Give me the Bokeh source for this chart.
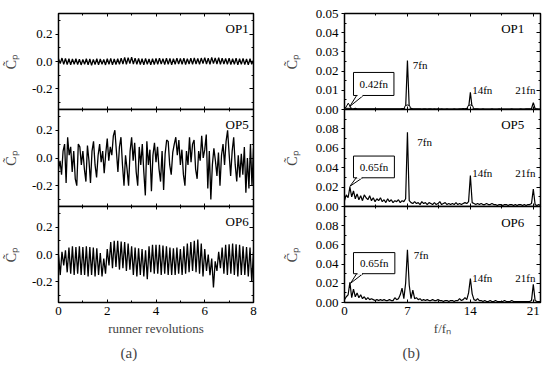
import numpy as np
from bokeh.plotting import figure
from bokeh.layouts import column, row
from bokeh.models import Range1d, FixedTicker, PrintfTickFormatter, LinearAxis, Title
from bokeh.core.properties import value
from bokeh.embed import file_html
from bokeh.resources import INLINE

FONT = "Liberation Serif"

# ---------------- data ----------------
rev_ticks = [0, 2, 4, 6, 8]
rev_minor = [1, 3, 5, 7]
cp_ticks = [-0.2, 0.0, 0.2]
cp_minor = [-0.3, -0.1, 0.1, 0.3]
f_ticks = [0, 7, 14, 21]
f_minor = [3.5, 10.5, 17.5]
spec1_ticks = [0.0, 0.01, 0.02, 0.03, 0.04, 0.05]
spec1_minor = [0.005, 0.015, 0.025, 0.035, 0.045]
spec2_ticks = [0.0, 0.02, 0.04, 0.06, 0.08]
spec2_minor = [0.01, 0.03, 0.05, 0.07, 0.09]

op_names = ["OP1", "OP5", "OP6"]
harmonic_labels = ["7fn", "14fn", "21fn"]
callout_labels = ["0.42fn", "0.65fn", "0.65fn"]

# time signals, 14 samples per runner revolution (t = i/14)
op1_signal = [
    0.02, -0.015, 0.025, -0.02, 0.022, -0.022, 0.02, -0.025, 0.018, -0.02, 0.02, -0.022, 0.016, -0.025,
    0.015, -0.02, 0.02, -0.025, 0.018, -0.028, 0.015, -0.022, 0.02, -0.025, 0.018, -0.02, 0.015, -0.025,
    0.02, -0.02, 0.022, -0.025, 0.018, -0.022, 0.02, -0.02, 0.025, -0.018, 0.03, -0.02, 0.028, -0.015,
    0.032, -0.018, 0.025, -0.02, 0.022, -0.022, 0.02, -0.025, 0.022, -0.02, 0.018, -0.025, 0.02, -0.022,
    0.022, -0.02, 0.025, -0.018, 0.02, -0.022, 0.024, -0.02, 0.022, -0.025, 0.02, -0.02, 0.025, -0.018,
    0.022, -0.02, 0.025, -0.022, 0.02, -0.018, 0.024, -0.02, 0.026, -0.018, 0.022, -0.02, 0.025, -0.015,
    0.028, -0.018, 0.025, -0.02, 0.03, -0.015, 0.026, -0.018, 0.028, -0.02, 0.025, -0.018, 0.022, -0.02,
    0.025, -0.022, 0.02, -0.02, 0.024, -0.025, 0.02, -0.02, 0.022, -0.022, 0.018, -0.025, 0.02, -0.02,
    0.01]

# 16 samples per revolution (t = i/16)
op5_signal = [
    -0.08, -0.02, -0.12, 0.05, 0.1, -0.18, 0.15, 0.02, 0.08, -0.1, 0.05, -0.15, -0.2, 0.1, 0.08, -0.05,
    0.05, -0.08, -0.17, 0.09, -0.02, -0.18, 0.05, 0.12, -0.05, -0.14, 0.02, 0.1, -0.03, 0.05, -0.11, 0.03,
    0.14, -0.02, 0.08, 0.02, 0.16, 0.2, 0.05, -0.1, 0.08, 0.15, -0.05, -0.2, 0.02, -0.08, -0.2, 0.05,
    0.15, -0.02, 0.11, -0.1, -0.2, 0.08, -0.05, 0.1, -0.1, -0.27, 0.12, -0.05, 0.06, -0.24, 0.02, 0.11,
    -0.03, 0.08, -0.08, -0.17, 0.05, -0.23, 0.03, 0.13, 0.12, -0.05, -0.12, 0.04, 0.1, 0.15, 0.02, 0.13,
    -0.05, 0.06, -0.12, -0.2, 0.05, -0.05, 0.15, -0.03, 0.1, 0.13, -0.08, -0.15, 0.05, -0.02, 0.16, 0.0,
    0.06, 0.17, -0.22, 0.05, -0.3, -0.05, 0.07, -0.02, -0.13, 0.04, -0.2, 0.02, 0.1, -0.05, 0.12, 0.2,
    0.03, -0.13, 0.05, 0.15, -0.05, -0.17, 0.02, -0.14, 0.03, -0.12, 0.08, -0.25, 0.0, -0.22, 0.1, -0.2,
    0.07]

op6_signal = [
    0.0, -0.15, 0.02, -0.08, 0.03, -0.13, 0.05, -0.14, 0.06, -0.15, 0.055, -0.14, 0.06, -0.15,
    0.055, -0.15, 0.06, -0.16, 0.055, -0.15, 0.05, -0.16, 0.045, -0.15, 0.01, -0.16, -0.03, -0.14,
    0.04, -0.08, 0.09, -0.1, 0.1, -0.09, 0.1, -0.11, 0.095, -0.1, 0.09, -0.12, 0.08, -0.11,
    0.06, -0.15, 0.05, -0.16, 0.045, -0.15, 0.04, -0.16, 0.03, -0.18, 0.06, -0.13, 0.07, -0.14,
    0.07, -0.14, 0.07, -0.15, 0.065, -0.14, 0.06, -0.15, 0.05, -0.15, 0.045, -0.15, 0.05, -0.14,
    0.04, -0.15, 0.06, -0.14, 0.08, -0.13, 0.09, -0.12, 0.1, -0.13, 0.11, -0.14, 0.08, -0.16,
    0.04, -0.12, 0.0, -0.15, -0.03, -0.24, -0.05, -0.12, 0.02, -0.1, 0.05, -0.14, 0.07, -0.15,
    0.075, -0.14, 0.08, -0.15, 0.075, -0.16, 0.07, -0.15, 0.06, -0.15, 0.055, -0.16, 0.05, -0.2,
    0.02]

# amplitude spectra on a 0.2 f/fn grid from 0 to 21.8
op1_spec = [
    0.0008, 0.0012, 0.0018, 0.0008, 0.0005, 0.0004, 0.0006, 0.0003, 0.0004, 0.0003,
    0.0004, 0.0003, 0.0003, 0.0004, 0.0003, 0.0003, 0.0004, 0.0003, 0.0003, 0.0004,
    0.0003, 0.0003, 0.0003, 0.0004, 0.0003, 0.0003, 0.0003, 0.0004, 0.0003, 0.0003,
    0.0003, 0.0004, 0.0005, 0.0006, 0.0008, 0.0255, 0.0008, 0.0006, 0.0004, 0.0003,
    0.0003, 0.0003, 0.0003, 0.0002, 0.0003, 0.0003, 0.0002, 0.0003, 0.0003, 0.0002,
    0.0003, 0.0002, 0.0003, 0.0002, 0.0003, 0.0002, 0.0002, 0.0003, 0.0002, 0.0002,
    0.0002, 0.0003, 0.0002, 0.0002, 0.0003, 0.0004, 0.0005, 0.0004, 0.0006, 0.0007,
    0.0089, 0.0007, 0.0005, 0.0004, 0.0003, 0.0002, 0.0002, 0.0003, 0.0002, 0.0002,
    0.0002, 0.0002, 0.0003, 0.0002, 0.0002, 0.0002, 0.0003, 0.0002, 0.0002, 0.0002,
    0.0002, 0.0002, 0.0002, 0.0003, 0.0002, 0.0002, 0.0002, 0.0002, 0.0003, 0.0002,
    0.0002, 0.0003, 0.0003, 0.0004, 0.0005, 0.0036, 0.0004, 0.0003, 0.0002, 0.0002]

op5_spec = [
    0.006, 0.012, 0.009, 0.02, 0.01, 0.016, 0.008, 0.013, 0.007, 0.011,
    0.006, 0.012, 0.009, 0.007, 0.011, 0.006, 0.009, 0.005, 0.008, 0.006,
    0.009, 0.005, 0.007, 0.004, 0.008, 0.005, 0.007, 0.004, 0.006, 0.005,
    0.007, 0.004, 0.006, 0.005, 0.008, 0.0765, 0.006, 0.004, 0.003, 0.005,
    0.003, 0.004, 0.002, 0.005, 0.003, 0.004, 0.002, 0.004, 0.003, 0.002,
    0.004, 0.002, 0.003, 0.005, 0.002, 0.003, 0.004, 0.002, 0.003, 0.002,
    0.003, 0.002, 0.004, 0.002, 0.003, 0.002, 0.003, 0.004, 0.003, 0.005,
    0.032, 0.004, 0.003, 0.002, 0.003, 0.002, 0.003, 0.002, 0.002, 0.003,
    0.002, 0.002, 0.003, 0.002, 0.002, 0.001, 0.002, 0.002, 0.001, 0.002,
    0.002, 0.001, 0.002, 0.002, 0.001, 0.002, 0.001, 0.002, 0.002, 0.001,
    0.002, 0.001, 0.002, 0.002, 0.003, 0.018, 0.002, 0.001, 0.002, 0.001]

op6_spec = [
    0.003, 0.006, 0.008, 0.021, 0.005, 0.014, 0.006, 0.01, 0.005, 0.008,
    0.004, 0.006, 0.003, 0.005, 0.003, 0.004, 0.003, 0.002, 0.003, 0.002,
    0.003, 0.002, 0.003, 0.002, 0.002, 0.003, 0.002, 0.002, 0.005, 0.003,
    0.004, 0.008, 0.015, 0.004, 0.02, 0.055, 0.018, 0.004, 0.013, 0.004,
    0.005, 0.003, 0.004, 0.002, 0.003, 0.002, 0.003, 0.002, 0.002, 0.003,
    0.002, 0.002, 0.003, 0.002, 0.002, 0.001, 0.002, 0.002, 0.001, 0.002,
    0.002, 0.001, 0.002, 0.002, 0.004, 0.002, 0.003, 0.005, 0.003, 0.01,
    0.025, 0.009, 0.003, 0.002, 0.004, 0.002, 0.002, 0.001, 0.002, 0.001,
    0.001, 0.002, 0.001, 0.001, 0.002, 0.001, 0.001, 0.001, 0.001, 0.002,
    0.001, 0.001, 0.001, 0.002, 0.001, 0.001, 0.001, 0.001, 0.001, 0.001,
    0.001, 0.001, 0.001, 0.001, 0.002, 0.019, 0.002, 0.001, 0.001, 0.001]

op1_marker_f = [0.42, 7.0, 14.0]
op1_marker_amp = [0.0015, 0.0008, 0.0008]
op1_marker_kind = ["triangle", "circle", "circle"]

t14 = np.arange(len(op1_signal)) / 14.0
t16 = np.arange(len(op5_signal)) / 16.0
fgrid = np.round(np.arange(len(op1_spec)) * 0.2, 1)

CP_LABEL = "C\u0303\u209a"

# ---------------- helpers ----------------
def hide_labels(ax):
    ax.major_label_text_font_size = "0px"
    ax.major_label_text_color = None
    ax.major_label_standoff = 0


def mirror_axis(ticks, minor, length=3):
    ax = LinearAxis(ticker=FixedTicker(ticks=ticks, minor_ticks=minor),
                    major_tick_in=length, major_tick_out=0,
                    minor_tick_in=2, minor_tick_out=0,
                    axis_line_color=None, major_tick_line_color="black",
                    minor_tick_line_color="black")
    hide_labels(ax)
    return ax


def make_fig(fw, fh, bl, br, bt, bb, xr, yr, xt, xm, yt, ym, yfmt, ylab_standoff, bottom, shift):
    p = figure(frame_width=fw, frame_height=fh, min_border_left=bl, min_border_right=br,
               min_border_top=bt, min_border_bottom=bb, x_range=Range1d(*xr), y_range=Range1d(*yr),
               output_backend="svg", toolbar_location=None)
    if shift:
        p.margin = (-shift, 0, 0, 0)
    p.border_fill_alpha = 0
    p.grid.visible = False
    p.outline_line_color = "black"
    p.outline_line_width = 1.5
    ya = p.yaxis[0]
    ya.ticker = FixedTicker(ticks=yt, minor_ticks=ym)
    ya.formatter = PrintfTickFormatter(format=yfmt)
    ya.major_tick_out = 3
    ya.major_tick_in = 0
    ya.minor_tick_in = 2
    ya.minor_tick_out = 0
    ya.axis_line_color = None
    ya.major_label_text_font = FONT
    ya.major_label_text_font_size = "13px"
    ya.major_label_text_color = "black"
    ya.major_label_standoff = 3
    ya.axis_label = CP_LABEL
    ya.axis_label_text_font = FONT
    ya.axis_label_text_font_size = "14px"
    ya.axis_label_text_font_style = "normal"
    ya.axis_label_standoff = ylab_standoff
    xa = p.xaxis[0]
    xa.ticker = FixedTicker(ticks=xt, minor_ticks=xm)
    xa.major_tick_in = 3
    xa.major_tick_out = 0
    xa.minor_tick_in = 2
    xa.minor_tick_out = 0
    xa.axis_line_color = None
    if bottom:
        xa.major_label_text_font = FONT
        xa.major_label_text_font_size = "13px"
        xa.major_label_text_color = "black"
        xa.major_label_standoff = 4
        xa.axis_label_text_font = FONT
        xa.axis_label_text_font_size = "13px"
        xa.axis_label_text_font_style = "normal"
        xa.axis_label_standoff = 3
    else:
        hide_labels(xa)
    p.add_layout(mirror_axis(xt, xm), "above")
    p.add_layout(mirror_axis(yt, ym, 4), "right")
    return p, xa


FH = [96, 97, 96]
BT = [13, 7, 7]
BB = [7, 7, 56]
SHIFT = [0, 14, 14]

# ---------------- left column: time signals ----------------
left = []
signals = [(t14, op1_signal), (t16, op5_signal), (t14, op6_signal)]
for k in range(3):
    p, xa = make_fig(195, FH[k], 58, 6, BT[k], BB[k], (0, 8), (-0.35, 0.35), rev_ticks, rev_minor,
                     cp_ticks, cp_minor, "%.1f", 10, k == 2, SHIFT[k])
    tt, yy = signals[k]
    p.line(tt, yy, line_color="black", line_width=1.3)
    p.text(x=[7.8], y=[0.24], text=[op_names[k]], text_font=value(FONT), text_font_size="13px",
           text_align="right", text_baseline="middle", text_color="black")
    if k == 2:
        xa.axis_label = "runner revolutions"
        p.add_layout(Title(text="(a)", align="left", offset=62, standoff=9, text_font=FONT,
                           text_font_size="15px", text_font_style="normal"), "below")
    left.append(p)

# ---------------- right column: spectra ----------------
right = []
specs = [op1_spec, op5_spec, op6_spec]
yranges = [(0, 0.05), (0, 0.1), (0, 0.1)]
yts = [(spec1_ticks, spec1_minor), (spec2_ticks, spec2_minor), (spec2_ticks, spec2_minor)]
op_y = [0.042, 0.085, 0.083]
h7 = [(7.6, 0.023), (8.1, 0.066), (7.7, 0.049)]
h14 = [0.0104, 0.035, 0.026]
boxes = [(1.0, 5.5, 0.0073, 0.0193), (1.0, 5.55, 0.0296, 0.052), (1.0, 5.6, 0.030, 0.052)]
tips = [(0.59, 0.0016, 1.35, 2.1), (0.59, 0.0207, 1.3, 2.0), (0.67, 0.020, 1.35, 2.05)]
for k in range(3):
    p, xa = make_fig(196, FH[k], 85, 2, BT[k], BB[k], (0, 21.8), yranges[k], f_ticks, f_minor,
                     yts[k][0], yts[k][1], "%.2f", 13, k == 2, SHIFT[k])
    p.line(fgrid, specs[k], line_color="black", line_width=1.2)
    if k == 0:
        for mk in ["triangle", "circle"]:
            idx = [i for i, m in enumerate(op1_marker_kind) if m == mk]
            p.scatter([op1_marker_f[i] for i in idx], [op1_marker_amp[i] for i in idx], marker=mk,
                      size=6, line_color="black", fill_color="white", line_width=1)
    # callout bubble
    x0, x1, y0, y1 = boxes[k]
    tx, ty, b0, b1 = tips[k]
    p.patch([b0, tx, b1], [y0, ty, y0], fill_color="white", line_color="black", line_width=1)
    p.quad(left=[x0], right=[x1], bottom=[y0], top=[y1], fill_color="white", line_color="black",
           line_width=1)
    p.segment(x0=[b0 + 0.1], y0=[y0], x1=[b1 - 0.1], y1=[y0], line_color="white", line_width=2)
    p.text(x=[(x0 + x1) / 2], y=[(y0 + y1) / 2], text=[callout_labels[k]], text_font=value(FONT),
           text_font_size="11px", text_align="center", text_baseline="middle")
    # harmonic labels
    p.text(x=[h7[k][0], 14.2, 19.0], y=[h7[k][1], h14[k], h14[k]], text=harmonic_labels,
           text_font=value(FONT), text_font_size="11px", text_align="left", text_baseline="middle")
    p.text(x=[20.0], y=[op_y[k]], text=[op_names[k]], text_font=value(FONT), text_font_size="13px",
           text_align="right", text_baseline="middle")
    if k == 2:
        xa.axis_label = "f/f\u2099"
        p.add_layout(Title(text="(b)", align="left", offset=58, standoff=9, text_font=FONT,
                           text_font_size="15px", text_font_style="normal"), "below")
    right.append(p)

layout = column(row(left[0], right[0]), row(left[1], right[1]), row(left[2], right[2]))

open("out.html", "w").write(file_html(layout, INLINE))
